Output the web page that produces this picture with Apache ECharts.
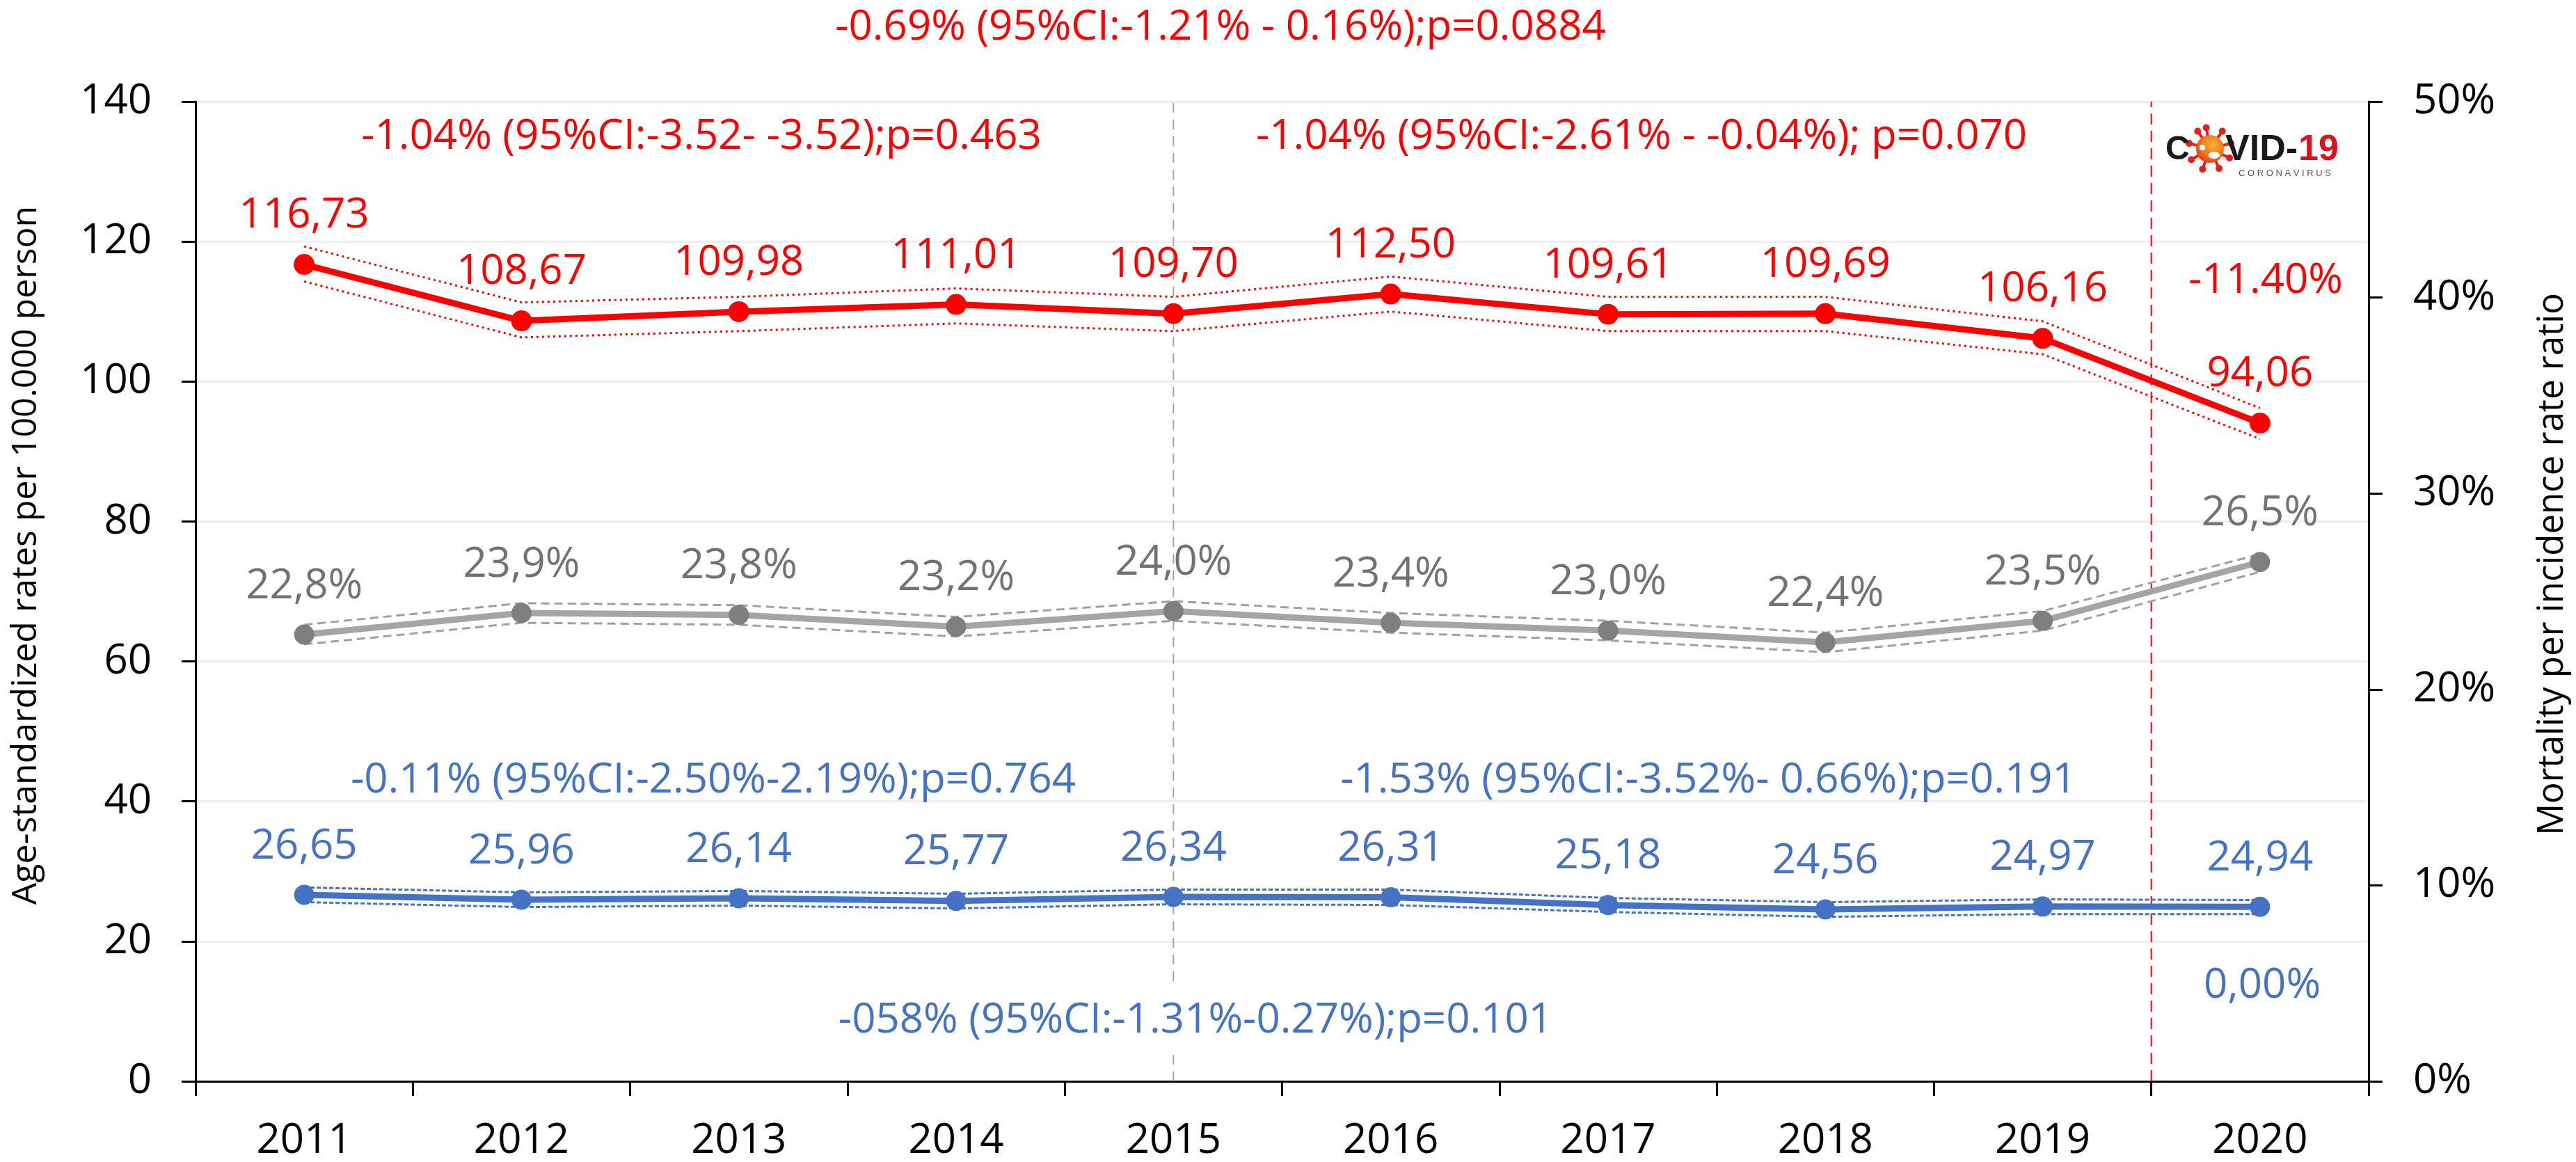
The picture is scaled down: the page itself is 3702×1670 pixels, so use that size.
<!DOCTYPE html>
<html>
<head>
<meta charset="utf-8">
<script src="https://cdn.jsdelivr.net/npm/echarts@6/dist/echarts.min.js"></script>
<style>
html,body{margin:0;padding:0;background:#fff;}
#chart{width:3702px;height:1670px;}
</style>
</head>
<body>
<div id="chart"></div>
<script>
// ---------- data ----------
const years = ['2011','2012','2013','2014','2015','2016','2017','2018','2019','2020'];

// Age-standardized incidence (red), per 100.000
const incidence      = [116.73,108.67,109.98,111.01,109.70,112.50,109.61,109.69,106.16,94.06];
const incidenceUpper = [119.3,111.3,112.1,113.3,112.1,115.0,112.1,112.1,108.6,96.2];
const incidenceLower = [114.3,106.3,107.2,108.3,107.2,110.0,107.2,107.2,103.9,91.8];

// Age-standardized mortality (blue), per 100.000
const mortality      = [26.65,25.96,26.14,25.77,26.34,26.31,25.18,24.56,24.97,24.94];
const mortalityUpper = [27.7,27.0,27.2,26.8,27.4,27.4,26.2,25.6,26.0,25.9];
const mortalityLower = [25.6,24.9,25.1,24.7,25.3,25.2,24.2,23.5,23.9,23.9];

// Mortality per incidence rate ratio (grey), %
const ratio      = [22.8,23.9,23.8,23.2,24.0,23.4,23.0,22.4,23.5,26.5];
const ratioUpper = [23.3,24.4,24.3,23.7,24.5,23.9,23.5,22.9,24.0,26.9];
const ratioLower = [22.3,23.4,23.3,22.7,23.5,22.9,22.5,21.9,23.0,26.0];

// axes
const leftAxis  = {min:0, max:140, interval:20};
const rightAxis = {min:0, max:50, interval:10};

// vertical reference lines (year positions)
const joinpointYear = 2015;     // grey dashed
const covidBreakYear = 2019.5;  // red dashed (between 2019 and 2020)

// annotations
const annTop       = '-0.69% (95%CI:-1.21% - 0.16%);p=0.0884';
const annRedLeft   = '-1.04% (95%CI:-3.52- -3.52);p=0.463';
const annRedRight  = '-1.04% (95%CI:-2.61% - -0.04%); p=0.070';
const annRedCovid  = '-11.40%';
const annBlueLeft  = '-0.11% (95%CI:-2.50%-2.19%);p=0.764';
const annBlueRight = '-1.53% (95%CI:-3.52%- 0.66%);p=0.191';
const annBlueAll   = '-058% (95%CI:-1.31%-0.27%);p=0.101';
const annBlueCovid = '0,00%';
const leftTitle  = 'Age-standardized rates per 100.000 person';
const rightTitle = 'Mortality per incidence rate ratio';

// ---------- chart ----------
const FONT = "'Open Sans', 'Liberation Sans', sans-serif";
const RED = '#ff0000', BLUE = '#4472c4', GREY_LINE = '#a5a5a5', GREY_MARK = '#7f7f7f', GREY_TXT = '#767171';
const comma2 = v => v.toFixed(2).replace('.', ',');
const comma1p = v => v.toFixed(1).replace('.', ',') + '%';

const chart = echarts.init(document.getElementById('chart'), null, {renderer:'canvas', devicePixelRatio:1});

function ciSeries(data, color, dash, yIdx, width){
  return {type:'line', data:data, xAxisIndex:0, yAxisIndex:yIdx, symbol:'none', silent:true,
    lineStyle:{color:color, width:width, type:dash}, z:1};
}
function vline(year, color, dash, width){
  return {type:'line', xAxisIndex:1, yAxisIndex:0, symbol:'none', silent:true,
    data:[[year, leftAxis.min],[year, leftAxis.max]],
    lineStyle:{color:color, width:width, type:dash}, z:0};
}

// logo (decorative) - virus spikes
const logo = [];
const vcx = 3176, vcy = 214;
const spikeAngles = [-100,-55,-15,25,65,110,150,195,235];
spikeAngles.forEach(a=>{
  const r = a*Math.PI/180;
  logo.push({type:'line', shape:{x1:vcx, y1:vcy, x2:vcx+30*Math.cos(r), y2:vcy+30*Math.sin(r)}, style:{stroke:'#e3201b', lineWidth:4}, z:200});
  logo.push({type:'circle', shape:{cx:vcx+31*Math.cos(r), cy:vcy+31*Math.sin(r), r:5}, style:{fill:'#e3201b'}, z:200});
});
logo.push({type:'circle', shape:{cx:vcx, cy:vcy, r:20}, style:{fill:new echarts.graphic.RadialGradient(0.6,0.35,0.8,[{offset:0,color:'#f9b233'},{offset:0.6,color:'#ef6c1e'},{offset:1,color:'#e3201b'}])}, z:201});
logo.push({type:'ellipse', shape:{cx:vcx+6, cy:vcy+9, rx:8, ry:5}, style:{fill:'#fff'}, z:202});
logo.push({type:'circle', shape:{cx:vcx-11, cy:vcy-2, r:4}, style:{fill:'#fff'}, z:202});
logo.push({type:'text', x:3112, y:216, style:{text:'C', fill:'#1a1a1a', font:"bold 48px 'Liberation Sans', sans-serif", verticalAlign:'middle', align:'left'}, z:203});
logo.push({type:'text', x:3198, y:216, style:{text:'VID-', fill:'#1a1a1a', font:"bold 52px 'Liberation Sans', sans-serif", verticalAlign:'middle', align:'left'}, z:200});
logo.push({type:'text', x:3303, y:216, style:{text:'19', fill:'#d9141b', font:"bold 52px 'Liberation Sans', sans-serif", verticalAlign:'middle', align:'left'}, z:200});
logo.push({type:'text', x:3217, y:249, style:{text:'C O R O N A V I R U S', fill:'#555', font:"13px 'Liberation Sans', sans-serif", verticalAlign:'middle', align:'left'}, z:200});

function ann(text, x, y, color, extra){
  return Object.assign({type:'text', x:x, y:y, z:100,
    style:Object.assign({text:text, fill:color, font:'60px '+FONT, align:'center', verticalAlign:'middle'}, extra||{})});
}

const option = {
  backgroundColor:'#ffffff',
  animation:false,
  grid:{left:281, right:298, top:146, bottom:114},
  xAxis:[{
    type:'category', data:years, boundaryGap:true,
    axisLine:{show:true, lineStyle:{color:'#000', width:3}},
    axisTick:{show:true, length:21, lineStyle:{color:'#000', width:3}},
    axisLabel:{color:'#000', fontSize:60, fontFamily:FONT, margin:56},
    splitLine:{show:false}
  },{
    type:'value', min:2010.5, max:2020.5, show:false
  }],
  yAxis:[{
    type:'value', min:leftAxis.min, max:leftAxis.max, interval:leftAxis.interval, position:'left',
    axisLine:{show:true, lineStyle:{color:'#000', width:3}},
    axisTick:{show:true, length:20, lineStyle:{color:'#000', width:3}},
    axisLabel:{color:'#000', fontSize:60, fontFamily:FONT, margin:63},
    splitLine:{show:true, lineStyle:{color:'#eeeeee', width:3}}
  },{
    type:'value', min:rightAxis.min, max:rightAxis.max, interval:rightAxis.interval, position:'right',
    axisLine:{show:true, lineStyle:{color:'#000', width:3}},
    axisTick:{show:true, length:20, lineStyle:{color:'#000', width:3}},
    axisLabel:{color:'#000', fontSize:60, fontFamily:FONT, margin:64, formatter:'{value}%'},
    splitLine:{show:false}
  }],
  series:[
    vline(joinpointYear, '#a6a6a6', [14,10], 2),
    vline(covidBreakYear, RED, [16,9], 2),
    ciSeries(ratioUpper, '#a0a0a0', [12,7], 1, 3),
    ciSeries(ratioLower, '#a0a0a0', [12,7], 1, 3),
    {type:'line', name:'ratio', data:ratio, yAxisIndex:1, symbol:'circle', symbolSize:29,
      lineStyle:{color:GREY_LINE, width:9}, itemStyle:{color:GREY_MARK},
      label:{show:true, position:'top', distance:25, color:GREY_TXT, fontSize:60, fontFamily:FONT, formatter:p=>comma1p(p.value)}, z:3},
    ciSeries(mortalityUpper, BLUE, [6,3], 0, 3),
    ciSeries(mortalityLower, BLUE, [6,3], 0, 3),
    {type:'line', name:'mortality', data:mortality, yAxisIndex:0, symbol:'circle', symbolSize:29,
      lineStyle:{color:BLUE, width:9}, itemStyle:{color:BLUE},
      label:{show:true, position:'top', distance:25, color:BLUE, fontSize:60, fontFamily:FONT, formatter:p=>comma2(p.value)}, z:3},
    ciSeries(incidenceUpper, RED, [3,5], 0, 3),
    ciSeries(incidenceLower, RED, [3,5], 0, 3),
    {type:'line', name:'incidence', data:incidence, yAxisIndex:0, symbol:'circle', symbolSize:30,
      lineStyle:{color:RED, width:9}, itemStyle:{color:RED},
      label:{show:true, position:'top', distance:25, color:RED, fontSize:60, fontFamily:FONT, formatter:p=>comma2(p.value)}, z:4}
  ],
  graphic:{elements:[
    ann(annTop, 1754, 40, RED),
    ann(annRedLeft, 1008, 197, RED),
    ann(annRedRight, 2359, 197, RED),
    ann(annRedCovid, 3256, 404, RED),
    ann(annBlueLeft, 1025, 1122, BLUE),
    ann(annBlueRight, 2455, 1122, BLUE),
    ann(annBlueAll, 1718, 1467, BLUE, {backgroundColor:'#fff', padding:[18,10,18,10]}),
    ann(annBlueCovid, 3251, 1417, BLUE),
    {type:'text', x:38, y:798, rotation:Math.PI/2, z:100,
      style:{text:leftTitle, fill:'#000', font:'50px '+FONT, align:'center', verticalAlign:'middle'}},
    {type:'text', x:3668, y:811, rotation:Math.PI/2, z:100,
      style:{text:rightTitle, fill:'#000', font:'51px '+FONT, align:'center', verticalAlign:'middle'}}
  ].concat(logo)}
};
chart.setOption(option);
</script>
</body>
</html>
